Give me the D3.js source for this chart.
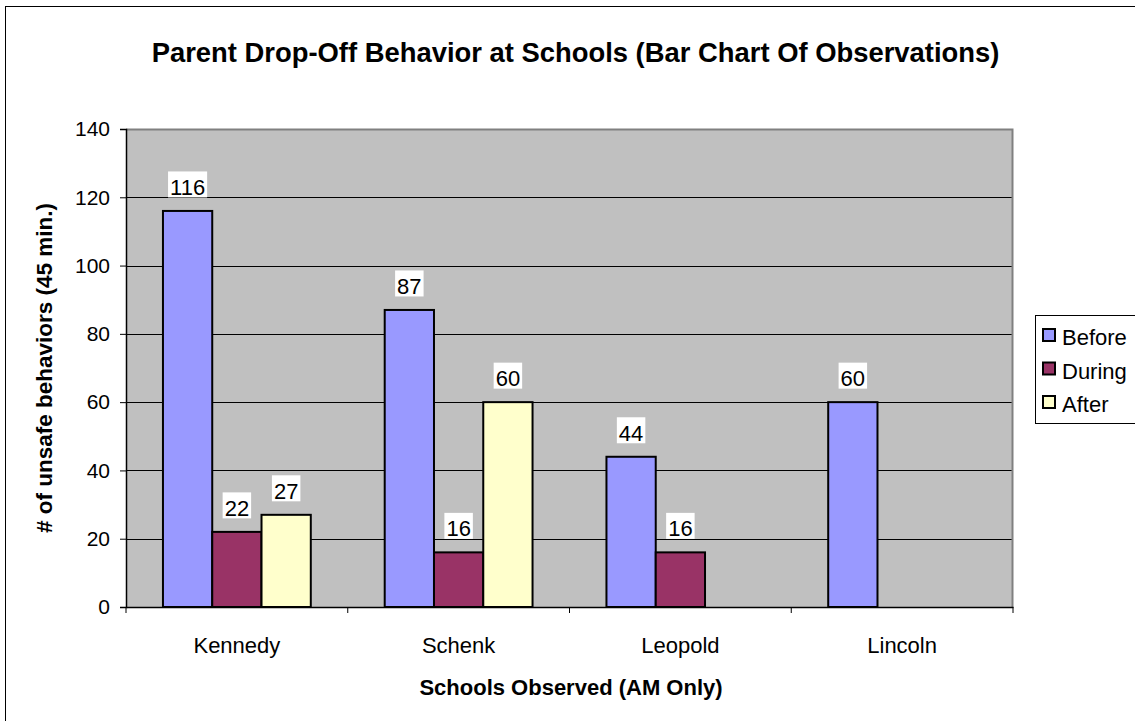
<!DOCTYPE html>
<html lang="en">
<head>
<meta charset="UTF-8">
<title>Parent Drop-Off Behavior at Schools</title>
<script src="https://d3js.org/d3.v7.min.js"></script>
<style>
  body { margin: 0; background: #fff; }
  text { font-family: Arial, "Liberation Sans", sans-serif; fill: #000; }
</style>
</head>
<body>
<script>
    // chart data
    const schools = ["Kennedy", "Schenk", "Leopold", "Lincoln"];
    const periods = ["Before", "During", "After"];
    const before = [116, 87, 44, 60];
    const during = [22, 16, 16, null];
    const after = [27, 60, null, null];
    const yTicks = [0, 20, 40, 60, 80, 100, 120, 140];
    const colors = ["#9999FF", "#993366", "#FFFFCC"];

    const seriesValues = [before, during, after];

    const W = 1135, H = 721;
    const plot = { left: 126, top: 129, right: 1013, bottom: 607 };

    let svg = d3.select("body").append("svg")
        .attr("width", W)
        .attr("height", H);

    // outer chart border (right and bottom run off the picture)
    svg.append("rect")
        .attr("x", 5.5).attr("y", 6.5)
        .attr("width", W + 10).attr("height", H + 10)
        .attr("fill", "#fff")
        .attr("stroke", "#000").attr("stroke-width", 1);

    let x0 = d3.scaleBand()
        .domain(schools)
        .range([plot.left, plot.right]);

    let x1 = d3.scaleBand()
        .domain(periods)
        .range([0, x0.bandwidth() * 3 / 4.5])
        .padding(0);

    const groupOffset = (x0.bandwidth() - x1.range()[1]) / 2;

    let y = d3.scaleLinear()
        .domain([0, 140])
        .range([plot.bottom, plot.top]);

    // plot background
    svg.append("rect")
        .attr("x", plot.left).attr("y", plot.top)
        .attr("width", plot.right - plot.left)
        .attr("height", plot.bottom - plot.top)
        .attr("fill", "#C0C0C0");

    // gridlines
    svg.append("g")
        .selectAll("line")
        .data(yTicks.filter(d => d > 0 && d < 140))
        .enter().append("line")
        .attr("x1", plot.left).attr("x2", plot.right)
        .attr("y1", d => Math.round(y(d)) + 0.5)
        .attr("y2", d => Math.round(y(d)) + 0.5)
        .attr("stroke", "#000").attr("stroke-width", 1);

    // gray top and right border of plot area
    svg.append("path")
        .attr("d", `M${plot.left},${plot.top + 0.5}H${plot.right - 0.5}V${plot.bottom}`)
        .attr("fill", "none")
        .attr("stroke", "#808080").attr("stroke-width", 2);

    // bars
    let bars = [];
    seriesValues.forEach((vals, si) => {
        vals.forEach((v, ci) => {
            if (v != null) bars.push({ school: schools[ci], period: periods[si], value: v, color: colors[si] });
        });
    });

    svg.append("g")
        .selectAll("rect")
        .data(bars)
        .enter().append("rect")
        .attr("x", d => x0(d.school) + groupOffset + x1(d.period))
        .attr("y", d => y(d.value))
        .attr("width", x1.bandwidth())
        .attr("height", d => y(0) - y(d.value))
        .attr("fill", d => d.color)
        .attr("stroke", "#000")
        .attr("stroke-width", 2);

    // value labels on white boxes
    let labels = svg.append("g")
        .selectAll("g")
        .data(bars)
        .enter().append("g")
        .attr("transform", d => `translate(${x0(d.school) + groupOffset + x1(d.period) + x1.bandwidth() / 2},${y(d.value) - 16})`);

    labels.append("rect").attr("fill", "#fff");
    labels.append("text")
        .text(d => d.value)
        .attr("text-anchor", "middle")
        .attr("font-size", "22px")
        .attr("y", 0);

    labels.each(function () {
        let g = d3.select(this);
        let bb = g.select("text").node().getBBox();
        g.select("rect")
            .attr("x", bb.x - 2).attr("y", -23.5)
            .attr("width", bb.width + 4).attr("height", 26);
    });

    // y axis
    let yAxis = svg.append("g")
        .attr("transform", `translate(${plot.left},0)`)
        .call(d3.axisLeft(y).tickValues(yTicks).tickSize(6).tickPadding(10));
    yAxis.select(".domain").attr("stroke", "#000").attr("stroke-width", 1.5);
    yAxis.selectAll(".tick line").attr("stroke", "#000");
    yAxis.selectAll(".tick text")
        .attr("font-size", "21px")
        .attr("font-family", "Arial, 'Liberation Sans', sans-serif")
        .attr("fill", "#000");

    // x axis
    let xAxis = svg.append("g")
        .attr("transform", `translate(0,${plot.bottom})`)
        .call(d3.axisBottom(x0).tickSize(0).tickPadding(30));
    xAxis.select(".domain").attr("stroke", "#000").attr("stroke-width", 1.5);
    xAxis.selectAll(".tick text")
        .attr("font-size", "22px")
        .attr("font-family", "Arial, 'Liberation Sans', sans-serif")
        .attr("fill", "#000");

    // x tick marks at the band edges
    svg.append("g")
        .selectAll("line")
        .data(schools.map(s => x0(s)).concat([plot.right]))
        .enter().append("line")
        .attr("x1", d => d).attr("x2", d => d)
        .attr("y1", plot.bottom).attr("y2", plot.bottom + 6)
        .attr("stroke", "#000");

    // titles
    svg.append("text")
        .attr("x", 575.5).attr("y", 62)
        .attr("text-anchor", "middle")
        .attr("font-size", "27.4px").attr("font-weight", "bold")
        .text("Parent Drop-Off Behavior at Schools (Bar Chart Of Observations)");

    svg.append("text")
        .attr("x", 571).attr("y", 695)
        .attr("text-anchor", "middle")
        .attr("font-size", "22px").attr("font-weight", "bold")
        .text("Schools Observed (AM Only)");

    svg.append("text")
        .attr("transform", "translate(52,368) rotate(-90)")
        .attr("text-anchor", "middle")
        .attr("font-size", "22.5px").attr("font-weight", "bold")
        .text("# of unsafe behaviors (45 min.)");

    // legend
    let legend = svg.append("g");
    legend.append("rect")
        .attr("x", 1035.5).attr("y", 315.5)
        .attr("width", 120).attr("height", 108)
        .attr("fill", "#fff").attr("stroke", "#000");

    let item = legend.selectAll("g")
        .data(periods)
        .enter().append("g")
        .attr("transform", (d, i) => `translate(1043,${345 + i * 33.5})`);

    item.append("rect")
        .attr("x", 0).attr("y", -16)
        .attr("width", 12).attr("height", 12)
        .attr("fill", (d, i) => colors[i])
        .attr("stroke", "#000").attr("stroke-width", 2);

    item.append("text")
        .attr("x", 19).attr("y", 0)
        .attr("font-size", "22px")
        .text(d => d);
</script>
</body>
</html>
